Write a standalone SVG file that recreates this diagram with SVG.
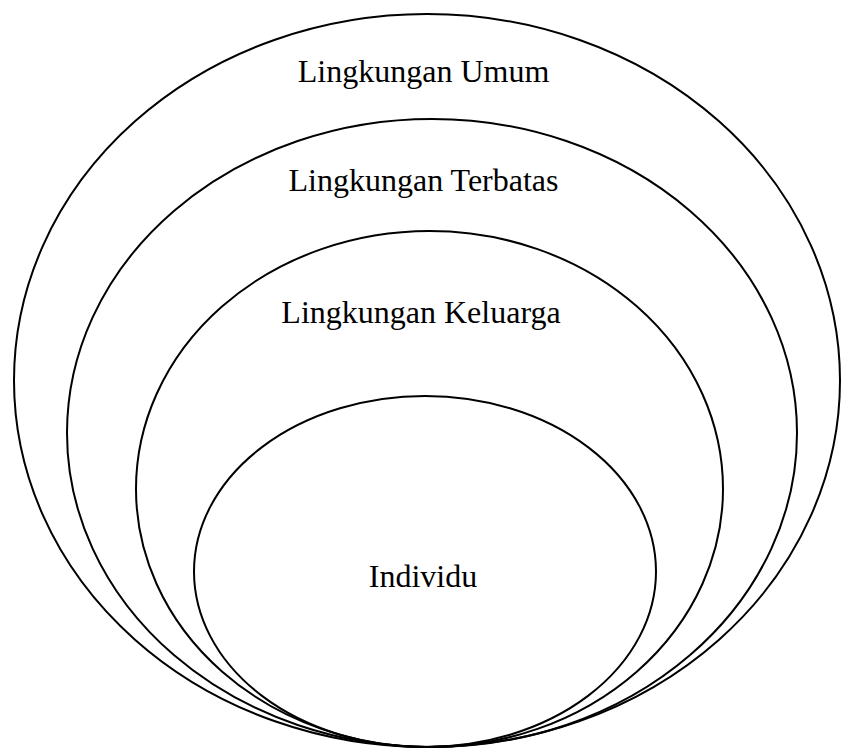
<svg xmlns="http://www.w3.org/2000/svg" width="841" height="749" viewBox="0 0 841 749">
<style>
.ring{fill:none;stroke:#000;stroke-width:2}
.lbl{font-family:"Liberation Serif","Times New Roman",serif;font-size:32px;fill:#000;text-anchor:middle}
</style>
<rect width="841" height="749" fill="#fff"/>
<g id="umum"><ellipse class="ring" cx="427" cy="380.5" rx="413" ry="366.5"/><text class="lbl" x="423.5" y="82">Lingkungan Umum</text></g>
<g id="terbatas"><ellipse class="ring" cx="432" cy="433" rx="365" ry="314"/><text class="lbl" x="423.5" y="191">Lingkungan Terbatas</text></g>
<g id="keluarga"><ellipse class="ring" cx="429.5" cy="489" rx="293.5" ry="258"/><text class="lbl" x="421" y="323">Lingkungan Keluarga</text></g>
<g id="individu"><ellipse class="ring" cx="425" cy="571.5" rx="231" ry="175.5"/><text class="lbl" x="423" y="587">Individu</text></g>
<g id="connectors"/>
</svg>
